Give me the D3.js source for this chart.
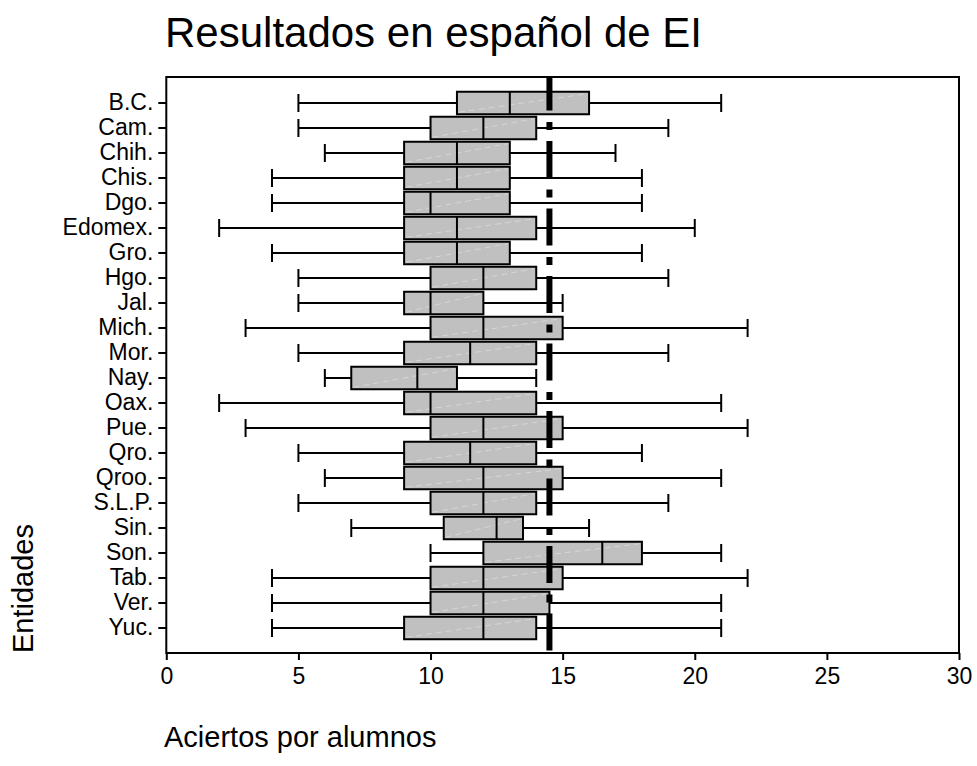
<!DOCTYPE html>
<html>
<head>
<meta charset="utf-8">
<script src="https://cdn.jsdelivr.net/npm/d3@7"></script>
<style>
  html, body { margin: 0; padding: 0; background: #fff; }
  svg { display: block; font-family: "Liberation Sans", Arial, sans-serif; }
</style>
</head>
<body>
<script>
const categories = ["B.C.","Cam.","Chih.","Chis.","Dgo.","Edomex.","Gro.","Hgo.","Jal.","Mich.","Mor.","Nay.","Oax.","Pue.","Qro.","Qroo.","S.L.P.","Sin.","Son.","Tab.","Ver.","Yuc."];
const whiskerMin = [5,5,6,4,4,2,4,5,5,3,5,6,2,3,5,6,5,7,10,4,4,4];
const q1        = [11,10,9,9,9,9,9,10,9,10,9,7,9,10,9,9,10,10.5,12,10,10,9];
const median    = [13,12,11,11,10,11,11,12,10,12,11.5,9.5,10,12,11.5,12,12,12.5,16.5,12,12,12];
const q3        = [16,14,13,13,13,14,13,14,12,15,14,11,14,15,14,15,14,13.5,18,15,14.5,14];
const whiskerMax= [21,19,17,18,18,20,18,19,15,22,19,14,21,22,18,21,19,16,21,22,21,21];
const referenceValue = 14.5;
const xTicks = [0,5,10,15,20,25,30];
const chartTitle = "Resultados en español de EI";
const xTitle = "Aciertos por alumnos";
const yTitle = "Entidades";

(function(){
const W = 977, H = 766;
const pL = 166.3, pR = 959, pT = 77, pB = 653;

const svg = d3.select("body").append("svg").attr("width", W).attr("height", H);

const x = d3.scaleLinear().domain([0,30]).range([pL, pR]);
const y = d3.scaleBand().domain(categories).range([90.5, 640.5]).paddingInner(0.1).paddingOuter(0.05);

const rows = categories.map((c,i) => ({c, min: whiskerMin[i], q1: q1[i], med: median[i], q3: q3[i], max: whiskerMax[i]}));

svg.append("rect").attr("x", pL).attr("y", pT).attr("width", pR-pL).attr("height", pB-pT)
  .attr("fill","none").attr("stroke","#000").attr("stroke-width",2);

const g = svg.append("g");
const bw = y.bandwidth();
rows.forEach(d => {
  const cy = y(d.c) + bw/2;
  g.append("line").attr("x1", x(d.min)).attr("x2", x(d.q1)).attr("y1", cy).attr("y2", cy).attr("stroke","#000").attr("stroke-width",2);
  g.append("line").attr("x1", x(d.q3)).attr("x2", x(d.max)).attr("y1", cy).attr("y2", cy).attr("stroke","#000").attr("stroke-width",2);
  g.append("line").attr("x1", x(d.min)).attr("x2", x(d.min)).attr("y1", cy-9).attr("y2", cy+9).attr("stroke","#000").attr("stroke-width",2);
  g.append("line").attr("x1", x(d.max)).attr("x2", x(d.max)).attr("y1", cy-9).attr("y2", cy+9).attr("stroke","#000").attr("stroke-width",2);
  g.append("rect").attr("x", x(d.q1)).attr("y", y(d.c)).attr("width", x(d.q3)-x(d.q1)).attr("height", bw)
    .attr("fill","#c0c0c0").attr("stroke","#000").attr("stroke-width",2);
  g.append("line").attr("x1", x(d.q1)+2).attr("y1", y(d.c)+bw-2).attr("x2", x(d.q3)-2).attr("y2", y(d.c)+2)
    .attr("stroke","#d6d6d6").attr("stroke-width",1).attr("stroke-dasharray","6 4");
  g.append("line").attr("x1", x(d.med)).attr("x2", x(d.med)).attr("y1", y(d.c)).attr("y2", y(d.c)+bw).attr("stroke","#000").attr("stroke-width",2);
});

svg.append("line").attr("x1", x(referenceValue)).attr("x2", x(referenceValue)).attr("y1", pT).attr("y2", pB)
  .attr("stroke","#000").attr("stroke-width",6).attr("stroke-dasharray","37 11.5 8 11").attr("stroke-dashoffset",3.5);

const xAxis = svg.append("g").attr("transform", `translate(0,${pB})`)
  .call(d3.axisBottom(x).tickValues(xTicks).tickSize(7).tickPadding(8).tickFormat(d3.format("d")));
xAxis.select(".domain").remove();
xAxis.selectAll(".tick line").attr("stroke","#000").attr("stroke-width",2);
xAxis.selectAll("text").attr("font-size",23).attr("fill","#000").attr("font-family","'Liberation Sans', Arial, sans-serif");

const yAxis = svg.append("g").attr("transform", `translate(${pL},0)`)
  .call(d3.axisLeft(y).tickSize(8).tickPadding(5));
yAxis.select(".domain").remove();
yAxis.selectAll(".tick line").attr("stroke","#000").attr("stroke-width",2);
yAxis.selectAll("text").attr("font-size",23).attr("fill","#000").attr("font-family","'Liberation Sans', Arial, sans-serif");

svg.append("text").attr("x", 165).attr("y", 47).attr("font-size", 42).attr("fill","#000").text(chartTitle);
svg.append("text").attr("x", 164).attr("y", 747).attr("font-size", 29).attr("fill","#000").text(xTitle);
svg.append("text").attr("transform", "translate(33,653) rotate(-90)").attr("font-size", 29).attr("fill","#000").text(yTitle);
})();
</script>
</body>
</html>
